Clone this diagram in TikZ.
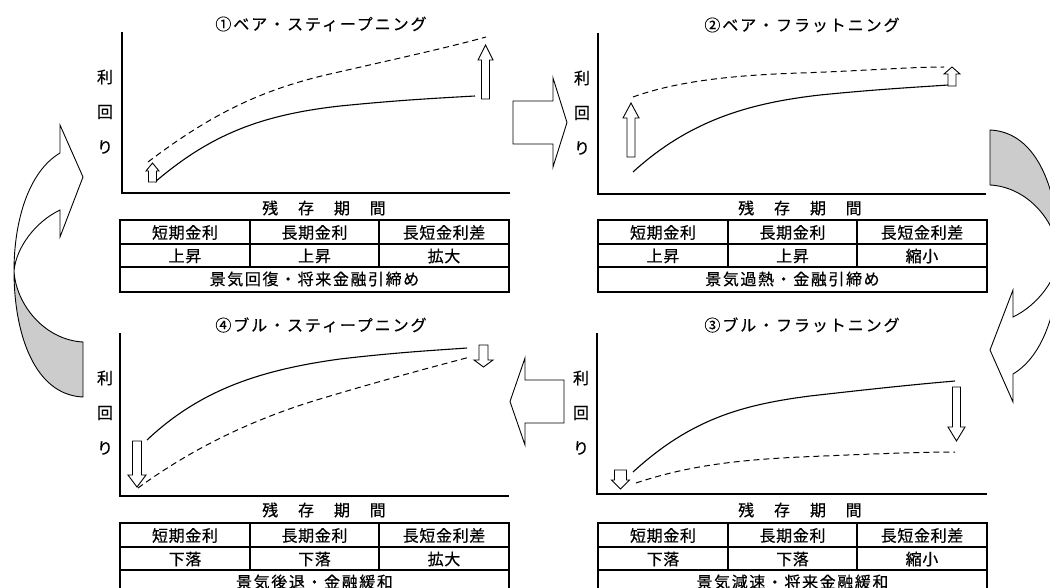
\documentclass[tikz,border=0pt]{standalone}
\usepackage{fontspec}
\setmainfont{Noto Sans CJK JP}
\newfontfamily\ttlfont[LetterSpace=12,FakeBold=0.4]{Noto Sans CJK JP}
\newfontfamily\hdfont[LetterSpace=4,FakeBold=0.5]{Noto Sans CJK JP}
\newfontfamily\btfont[LetterSpace=10,FakeBold=0.5]{Noto Sans CJK JP}
\newfontfamily\plainjp[FakeBold=0.5]{Noto Sans CJK JP}
\tikzset{
  every node/.style={inner sep=0pt, outer sep=0pt},
  ttl/.style={font=\ttlfont\fontsize{16}{19}\selectfont},
  ylab/.style={font=\plainjp\fontsize{16}{19}\selectfont},
  hd/.style={font=\hdfont\fontsize{16}{19}\selectfont},
  bt/.style={font=\btfont\fontsize{16}{19}\selectfont},
  axisline/.style={line width=1.3pt},
  solidcurve/.style={line width=1.1pt},
  dashcurve/.style={line width=1pt, dash pattern=on 6pt off 4pt},
  barr/.style={draw, line width=0.9pt, fill=white, line join=miter},
  tblline/.style={line width=1.8pt},
  ribbonback/.style={fill=black!20},
}
% vertical block arrow: cx, half head, half shaft, tip y, base y, end y
\newcommand\vArrow[6]{%
  \draw[barr] (#1,#4) -- (#1+#2,#5) -- (#1+#3,#5) -- (#1+#3,#6) -- (#1-#3,#6) -- (#1-#3,#5) -- (#1-#2,#5) -- cycle;}
% horizontal block arrow: cy, half head, half shaft, tip x, base x, end x
\newcommand\hArrow[6]{%
  \draw[barr] (#4,#1) -- (#5,#1-#2) -- (#5,#1-#3) -- (#6,#1-#3) -- (#6,#1+#3) -- (#5,#1+#3) -- (#5,#1+#2) -- cycle;}
% table: x0, y0, prefix, v1, v2, v3, bottom text
\newcommand\ptable[7]{%
  \begin{scope}[shift={(#1,#2)}]
    \draw[tblline] (0,0) rectangle (389,72);
    \draw[tblline] (0,24) -- (389,24);
    \draw[tblline] (0,47) -- (389,47);
    \draw[tblline] (130,0) -- (130,47);
    \draw[tblline] (259,0) -- (259,47);
    \node[hd] (#3h1) at (65,12.5) {短期金利};
    \node[hd] (#3h2) at (194.5,12.5) {長期金利};
    \node[hd] (#3h3) at (324,12.5) {長短金利差};
    \node[hd] (#3v1) at (65,36) {#4};
    \node[hd] (#3v2) at (194.5,36) {#5};
    \node[hd] (#3v3) at (324,36) {#6};
    \node[bt] (#3b) at (194.5,59) {#7};
  \end{scope}}
\newcommand\ribbonarrow{%
  \fill[ribbonback] (14,271) .. controls (16,305) and (45,340) .. (83,342) -- (83,397)
     .. controls (35,395) and (14,335) .. (14,271) -- cycle;
  \draw[line width=0.9pt] (83,177) -- (60,125) -- (60,153)
     .. controls (28,172) and (14,222) .. (14,271)
     .. controls (14,335) and (35,395) .. (83,397) -- (83,342)
     .. controls (45,340) and (16,305) .. (14,271)
     .. controls (16,248) and (35,222) .. (60,210) -- (60,237) -- cycle;}
\begin{document}
\begin{tikzpicture}[x=1pt, y=-1pt]
\useasboundingbox (0,0) rectangle (1050,588);
\clip (0,0) rectangle (1050,588);

% ---------- Panel 1 ----------
\node[ttl] (t1) at (321,24) {①ベア・スティープニング};
\draw[axisline] (122,32) -- (122,193) -- (510,193);
\node[ylab] (p1a) at (105,77) {利};
\node[ylab] (p1b) at (105,112) {回};
\node[ylab] (p1c) at (105,147) {り};
\draw[dashcurve] (148,162) .. controls (210,115) and (260,90) .. (330,74) .. controls (400,58) and (450,47) .. (486,37);
\draw[solidcurve] (155,182) .. controls (210,135) and (260,115) .. (340,106) .. controls (400,100) and (440,98) .. (475,96);
\vArrow{152.5}{6.5}{4}{163}{171}{182}
\vArrow{485.5}{7.5}{4}{45}{60}{99}
\node[ttl] (x1) at (324,208) {残　存　期　間};
\ptable{120}{220}{pa}{上昇}{上昇}{拡大}{景気回復・将来金融引締め}

% ---------- Panel 2 ----------
\node[ttl] (t2) at (802,25) {②ベア・フラットニング};
\draw[axisline] (598,33) -- (598,194) -- (986,194);
\node[ylab] (p2a) at (582,78) {利};
\node[ylab] (p2b) at (582,113) {回};
\node[ylab] (p2c) at (582,148) {り};
\draw[dashcurve] (633,97) .. controls (680,80) and (740,75) .. (800,73) .. controls (860,71) and (910,67) .. (944,67);
\draw[solidcurve] (633,172) .. controls (690,120) and (750,103) .. (820,95) .. controls (880,89) and (920,87) .. (948,85);
\vArrow{631}{8}{4}{103}{118}{157}
\vArrow{952}{8}{4}{67}{74}{86}
\node[ttl] (x2) at (800,208) {残　存　期　間};
\ptable{598}{220}{pb}{上昇}{上昇}{縮小}{景気過熱・金融引締め}

% ---------- Panel 3 ----------
\node[ttl] (t3) at (802,325) {③ブル・フラットニング};
\draw[axisline] (597,333) -- (597,494) -- (987,494);
\node[ylab] (p3a) at (581,378) {利};
\node[ylab] (p3b) at (581,413) {回};
\node[ylab] (p3c) at (581,448) {り};
\draw[dashcurve] (636,483) .. controls (690,465) and (740,460) .. (800,457) .. controls (870,454) and (920,452) .. (955,452);
\draw[solidcurve] (633,472) .. controls (690,420) and (740,405) .. (810,396) .. controls (880,388) and (920,384) .. (955,381);
\vArrow{956.5}{8.5}{4}{441}{427}{387}
\vArrow{620.5}{9}{6}{489}{480}{470}
\node[ttl] (x3) at (800,510) {残　存　期　間};
\ptable{598}{523}{pc}{下落}{下落}{縮小}{景気減速・将来金融緩和}

% ---------- Panel 4 ----------
\node[ttl] (t4) at (321,325) {④ブル・スティープニング};
\draw[axisline] (120,333) -- (120,496) -- (509,496);
\node[ylab] (p4a) at (105,378) {利};
\node[ylab] (p4b) at (105,413) {回};
\node[ylab] (p4c) at (105,448) {り};
\draw[dashcurve] (138,488) .. controls (190,450) and (250,420) .. (320,399) .. controls (390,378) and (440,365) .. (470,357);
\draw[solidcurve] (147,440) .. controls (200,390) and (260,370) .. (340,359) .. controls (400,352) and (440,350) .. (467,348);
\vArrow{137}{9}{4.5}{487}{475}{441}
\vArrow{483.5}{9.5}{4.5}{367}{360}{345}
\node[ttl] (x4) at (324,510) {残　存　期　間};
\ptable{120}{523}{pd}{下落}{下落}{拡大}{景気後退・金融緩和}

% ---------- transition arrows ----------
\hArrow{122.5}{44.5}{21.5}{567}{553}{513}
\hArrow{401.5}{43.5}{21.5}{510}{525}{564}
\ribbonarrow
\begin{scope}[shift={(1073,527)}, rotate=180]
  \ribbonarrow
\end{scope}
\end{tikzpicture}
\end{document}
